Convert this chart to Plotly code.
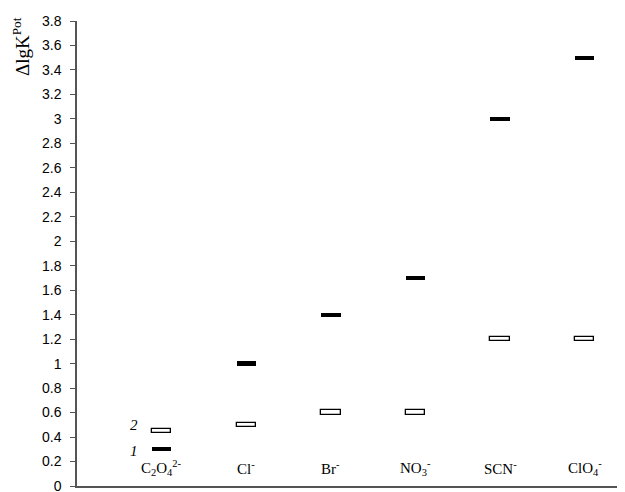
import plotly.graph_objects as go

categories = ["C<sub>2</sub>O<sub>4</sub><sup>2-</sup>", "Cl<sup>-</sup>", "Br<sup>-</sup>",
              "NO<sub>3</sub><sup>-</sup>", "SCN<sup>-</sup>", "ClO<sub>4</sub><sup>-</sup>"]
series1 = [0.3, 1.0, 1.4, 1.7, 3.0, 3.5]
series2 = [0.45, 0.5, 0.6, 0.6, 1.2, 1.2]
yticks = [0, 0.2, 0.4, 0.6, 0.8, 1, 1.2, 1.4, 1.6, 1.8, 2, 2.2, 2.4, 2.6, 2.8, 3,
          3.2, 3.4, 3.6, 3.8]
ytick_text = [("%g" % v) for v in yticks]

xpos = list(range(1, len(categories) + 1))
h = 0.035

# page offset: browser body margin of 8 px
L, T, B, R = 69, 13, 14, 0
PW = 625 - L - R
PH = 492 - T - B

fig = go.Figure()
fig.add_trace(go.Bar(x=xpos, y=[h] * len(series2), base=[v - h / 2 for v in series2],
                     width=0.23, marker=dict(color="white", line=dict(color="black", width=1.3)),
                     showlegend=False))
fig.add_trace(go.Bar(x=xpos, y=[h] * len(series1), base=[v - h / 2 for v in series1],
                     width=0.23, marker=dict(color="black", line=dict(color="black", width=0)),
                     showlegend=False))

for xp, lab in zip(xpos, categories):
    fig.add_annotation(x=xp, y=0.15, text=lab, showarrow=False, xref="x", yref="y",
                       font=dict(family="Liberation Serif", size=15, color="black"))

fig.add_annotation(x=0.67, y=series2[0] + 0.05, text="<i>2</i>", showarrow=False,
                   font=dict(family="Liberation Serif", size=15, color="black"))
fig.add_annotation(x=0.67, y=series1[0] - 0.01, text="<i>1</i>", showarrow=False,
                   font=dict(family="Liberation Serif", size=15, color="black"))

fig.add_annotation(xref="paper", yref="paper", x=-(77 - 21) / PW, y=1 + (21 - 47) / PH,
                   xanchor="center", yanchor="middle", text="ΔlgK<sup>Pot</sup>",
                   showarrow=False, textangle=-90,
                   font=dict(family="Liberation Serif", size=19, color="black"))

fig.update_layout(
    width=625, height=492,
    margin=dict(l=L, r=R, t=T, b=B, autoexpand=False),
    paper_bgcolor="white", plot_bgcolor="white",
    barmode="overlay", bargap=0,
    xaxis=dict(range=[0, 6.57], showgrid=False, zeroline=False, showticklabels=False,
               showline=True, linecolor="#555555", linewidth=1.5, ticks=""),
    yaxis=dict(range=[0, 3.8], tickvals=yticks, ticktext=ytick_text, showgrid=False,
               zeroline=False, showline=True, linecolor="#555555", linewidth=1.5,
               ticks="outside", ticklen=5, tickcolor="#555555",
               tickfont=dict(family="Liberation Sans", size=14, color="black"),
               ticklabelstandoff=6),
)

fig.write_html("out.html")
